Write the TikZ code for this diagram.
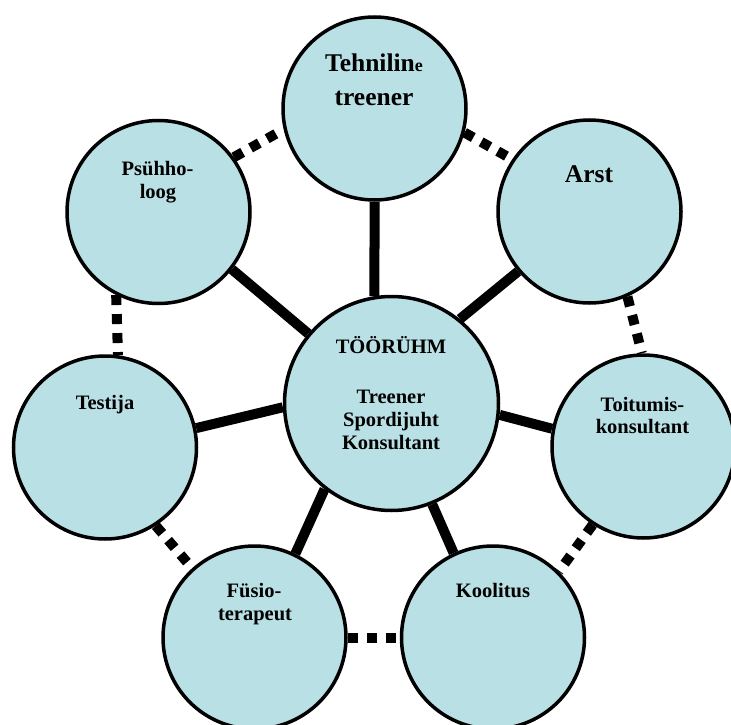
\documentclass[tikz,border=0pt]{standalone}
\usepackage{fontspec}
\setmainfont{Liberation Serif}
\definecolor{cfill}{RGB}{185,224,228}
\tikzset{
  circ/.style={circle, draw=black, line width=3.5pt, fill=cfill, minimum size=183pt, inner sep=0pt},
  hubc/.style={circ, minimum size=214pt},
  solidlink/.style={line width=10pt},
  dotlink/.style={line width=10pt, dash pattern=on 10pt off 9pt},
  lab/.style={anchor=base, inner sep=0pt, text=black, font=\bfseries\fontsize{20.5}{24}\selectfont},
  biglab/.style={anchor=base, inner sep=0pt, text=black, font=\bfseries\fontsize{25.5}{30}\selectfont},
}
\begin{document}
\begin{tikzpicture}[x=1pt, y=-1pt]
\useasboundingbox (0,0) rectangle (731,725);
\clip (0,0) rectangle (731,725);
\fill[white] (0,0) rectangle (731,725);
% circles
\node[circ] (tech) at (374.5,108.5) {};
\node[circ] (arst) at (589.5,211.5) {};
\node[circ] (psy)  at (158.5,212) {};
\node[circ] (test) at (105,447.5) {};
\node[circ] (toit) at (643.5,446.5) {};
\node[circ] (fys)  at (254.5,637.5) {};
\node[circ] (kool) at (493,637.5) {};
\node[hubc] (hub)  at (391.5,403.5) {};
% solid connectors
\draw[solidlink] (tech.270) -- (hub.99);
\draw[solidlink] (psy.322) -- (hub.140);
\draw[solidlink] (arst.220) -- (hub.51);
\draw[solidlink] (test.12.6) -- (hub.182);
\draw[solidlink] (toit.169) -- (hub.354);
\draw[solidlink] (fys.64.8) -- (hub.232.8);
\draw[solidlink] (kool.115) -- (hub.292.4);
% dotted connectors
\draw[dotlink] (psy.36.5) -- (tech.193);
\draw[dotlink] (tech.345) -- (arst.146);
\draw[dotlink] (arst.294) -- (toit.91);
\draw[dotlink] (psy.243.8) -- (test.82.6);
\draw[dotlink] (test.303) -- (fys.132);
\draw[dotlink] (fys.east) -- (kool.west);
\draw[dotlink] (toit.237.8) -- (kool.45.4);
% labels
\node[biglab] (t1) at (374,72) {Tehnilin{\fontsize{18}{20}\selectfont e}};
\node[biglab] (t2) at (374,105) {treener};
\node[biglab] (a1) at (589,182) {Arst};
\node[lab] (p1) at (157.5,175) {Psühho-};
\node[lab] (p2) at (158,198) {loog};
\node[lab] (e1) at (105,409) {Testija};
\node[lab] (h1) at (391,353) {TÖÖRÜHM};
\node[lab] (h2) at (391,403) {Treener};
\node[lab] (h3) at (391,426) {Spordijuht};
\node[lab] (h4) at (391,449) {Konsultant};
\node[lab] (o1) at (642.5,411) {Toitumis-};
\node[lab] (o2) at (642.5,433) {konsultant};
\node[lab] (f1) at (254,597) {Füsio-};
\node[lab] (f2) at (255,620) {terapeut};
\node[lab] (k1) at (493,597) {Koolitus};
\end{tikzpicture}
\end{document}
